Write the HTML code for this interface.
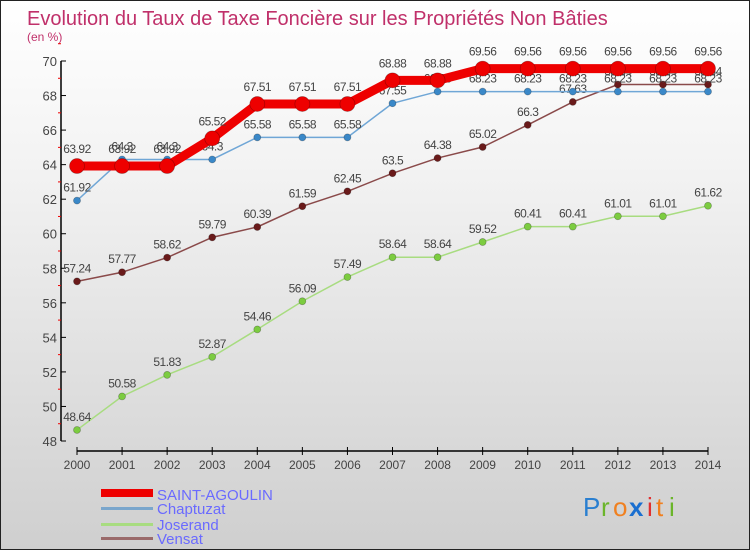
<!DOCTYPE html>
<html><head><meta charset="utf-8"><style>
body{margin:0}
#c{position:relative;width:748px;height:548px;border:1px solid #222;background:linear-gradient(#ffffff,#f3f3f3 30%,#cfcfcf);font-family:"Liberation Sans",sans-serif;overflow:hidden}
svg text{font-family:"Liberation Sans",sans-serif}
</style></head><body>
<div id="c">
<svg id="s" width="748" height="548">
<text x="26" y="24" font-size="20" fill="#c0306a">Evolution du Taux de Taxe Foncière sur les Propriétés Non Bâties</text>
<text x="26" y="40" font-size="12" fill="#c0306a">(en %)</text>
<g id="ax"></g><g id="ser"></g>
<g>
<rect x="100" y="488" width="52" height="8" fill="#e00"/>
<text x="156" y="499" font-size="15" fill="#6a6aff">SAINT-AGOULIN</text>
<rect x="100" y="506" width="52" height="3" fill="#7aa6cc"/>
<text x="156" y="513" font-size="15" fill="#6a6aff">Chaptuzat</text>
<rect x="100" y="522" width="52" height="3" fill="#a8dc80"/>
<text x="156" y="529" font-size="15" fill="#6a6aff">Joserand</text>
<rect x="100" y="536" width="52" height="3" fill="#9a6a6a"/>
<text x="156" y="543" font-size="15" fill="#6a6aff">Vensat</text>
</g>
<g font-size="26">
<text x="582" y="515" fill="#2a7fd0">P</text><text x="600" y="515" fill="#6bb52a">r</text><text x="612" y="515" fill="#f08020">o</text><text x="628" y="515" fill="#1a6fd0" font-weight="bold">x</text><text x="646" y="515" fill="#e03030">i</text><text x="655" y="515" fill="#f08020">t</text><text x="668" y="515" fill="#6bb52a">i</text>
</g>
</svg></div>
<script>
const years=[2000,2001,2002,2003,2004,2005,2006,2007,2008,2009,2010,2011,2012,2013,2014];
const yTicks=[48,50,52,54,56,58,60,62,64,66,68,70];
const saintAgoulin=[63.92,63.92,63.92,65.52,67.51,67.51,67.51,68.88,68.88,69.56,69.56,69.56,69.56,69.56,69.56];
const chaptuzat=[61.92,64.3,64.3,64.3,65.58,65.58,65.58,67.55,68.23,68.23,68.23,68.23,68.23,68.23,68.23];
const joserand=[48.64,50.58,51.83,52.87,54.46,56.09,57.49,58.64,58.64,59.52,60.41,60.41,61.01,61.01,61.62];
const vensat=[57.24,57.77,58.62,59.79,60.39,61.59,62.45,63.5,64.38,65.02,66.3,67.63,68.64,68.64,68.64];
const NS="http://www.w3.org/2000/svg";
const X=i=>76+i*(707-76)/(years.length-1);
const Y=v=>440-(v-48)*(380/22);
function mk(t,a,p){const e=document.createElementNS(NS,t);for(const k in a)e.setAttribute(k,a[k]);p.appendChild(e);return e;}
const ax=document.getElementById('ax');
let l=mk('line',{x1:60,y1:60,x2:60,y2:440,stroke:'#000','stroke-width':1.5},ax);


l=mk('line',{x1:76,y1:450,x2:707,y2:450,stroke:'#000','stroke-width':1.5},ax);


yTicks.forEach(v=>{mk('line',{x1:60,y1:Y(v),x2:65,y2:Y(v),stroke:'#000'},ax);
 mk('line',{x1:57,y1:Y(v+1),x2:60,y2:Y(v+1),stroke:'#e00'},ax);
 const t=mk('text',{x:56,y:Y(v)+5,'text-anchor':'end','font-size':13,fill:'#444'},ax);t.textContent=v;
 
 });
years.forEach((y,i)=>{mk('line',{x1:X(i),y1:446,x2:X(i),y2:454,stroke:'#000'},ax);
 const t=mk('text',{x:X(i),y:468,'text-anchor':'middle','font-size':12,fill:'#444'},ax);t.textContent=y;
 
 });
const ser=document.getElementById('ser');
function draw(vals,name,col,dot,w,r){
 const g=mk('g',{},ser);
 
 
 mk('polyline',{points:vals.map((v,i)=>X(i)+','+Y(v)).join(' '),fill:'none',stroke:col,'stroke-width':w},g);
 vals.forEach((v,i)=>{const c=mk('circle',{cx:X(i),cy:Y(v),r:r,fill:dot,stroke:'rgba(0,0,0,0.3)','stroke-width':0.7},g);
  
  
  const t=mk('text',{x:X(i),y:Y(v)-9-(r>6?4:0),'text-anchor':'middle','font-size':12,fill:'#444',style:'letter-spacing:-0.5px'},g);t.textContent=v;
  
  });
}
draw(joserand,'joserand','#a8dc80','#7ccc40',1.5,3.5);
draw(vensat,'vensat','#8a4a4a','#6a1a1a',1.5,3.5);
draw(chaptuzat,'chaptuzat','#6fa6d6','#3a88c8',1.5,3.5);
draw(saintAgoulin,'saint-agoulin','#e00','#e00',9,7.5);
</script>
</body></html>
